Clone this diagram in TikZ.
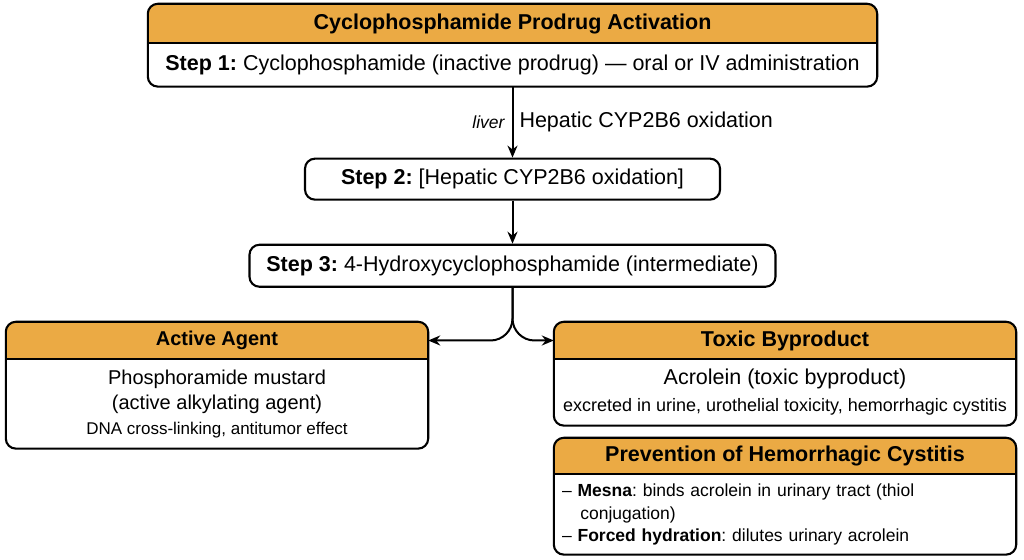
\documentclass[tikz,border=0pt]{standalone}
\usepackage{fontspec}
\setmainfont{Liberation Sans}
\usetikzlibrary{arrows, arrows.meta, positioning, backgrounds}
\definecolor{hdrorange}{RGB}{235,170,68}
\tikzstyle{header} = [rectangle, minimum height=37, text centered, inner sep=0pt, font=\fontsize{21.5}{25}\selectfont\bfseries]
\tikzstyle{panelbody} = [rectangle, text centered, align=center, inner sep=0pt, font=\fontsize{20}{25}\selectfont]
\tikzstyle{stepbox} = [rectangle, rounded corners=10, draw=black, line width=2.1pt, minimum height=41, text centered, inner sep=0pt, font=\fontsize{21.5}{25}\selectfont]
\tikzstyle{panel} = [rounded corners=10, line width=2.1pt]
\tikzstyle{arrow} = [line width=2pt,->,>={Stealth[length=12pt,width=10pt]}]

\begin{document}
\frenchspacing
\begin{tikzpicture}[x=1pt, y=1pt]
	\useasboundingbox (0,0) rectangle (1024,559);
	
	\node (topHead) [header, minimum width=729, minimum height=39] at (512.5,535.5) {Cyclophosphamide Prodrug Activation};
	\node (topBody) [panelbody, minimum width=729, minimum height=43, below=0pt of topHead, font=\fontsize{21.5}{25}\selectfont] {\textbf{Step 1:} Cyclophosphamide (inactive prodrug) — oral or IV administration};
	
	\node (s2) [stepbox, minimum width=415, below=71pt of topBody] {\textbf{Step 2:} [Hepatic CYP2B6 oxidation]};
	\node (s3) [stepbox, minimum width=526, minimum height=42, below=43pt of s2] {\textbf{Step 3:} 4-Hydroxycyclophosphamide (intermediate)};
	
	\node (actHead) [header, minimum width=422, font=\fontsize{20}{24}\selectfont\bfseries] at (217,218.5) {Active Agent};
	\node (actBody) [panelbody, minimum width=422, minimum height=89, below=0pt of actHead] {Phosphoramide mustard\\(active alkylating agent)\\[0pt]{\fontsize{17}{20}\selectfont DNA cross-linking, antitumor effect}};
	\node (toxHead) [header, minimum width=462] at (785,218.5) {Toxic Byproduct};
	\node (toxBody) [panelbody, minimum width=462, minimum height=66, below=0pt of toxHead, font=\fontsize{21.5}{26}\selectfont] {Acrolein (toxic byproduct)\\[1pt]{\fontsize{18}{20}\selectfont excreted in urine, urothelial toxicity, hemorrhagic cystitis}};
	\node (prevHead) [header, minimum width=462, minimum height=36] at (785,103) {Prevention of Hemorrhagic Cystitis};
	\node (prevBody) [panelbody, minimum width=462, minimum height=79, text width=446, align=left, below=1pt of prevHead, font=\fontsize{17.5}{22.5}\selectfont] {-- \textbf{Mesna}: binds acrolein in urinary tract (thiol\\\hspace*{1.05em}conjugation)\\-- \textbf{Forced hydration}: dilutes urinary acrolein};
	
	% orange header bands
	\begin{scope}[on background layer]
	\foreach \pn in {top,act,tox,prev} {
		\begin{scope}
			\clip[rounded corners=10] (\pn Head.north west) rectangle (\pn Body.south east);
			\fill[hdrorange] (\pn Head.north west) rectangle (\pn Head.south east);
		\end{scope}
	}
	\end{scope}
	\foreach \pn in {top,act,tox,prev} {
		\draw[panel] (\pn Head.north west) rectangle (\pn Body.south east);
		\draw[line width=2pt] (\pn Head.south west) -- (\pn Head.south east);
	}
	
	\draw [arrow] (topBody) -- node[left, inner sep=7pt, font=\fontsize{17.5}{20}\selectfont\itshape] {liver} node[right, inner sep=6pt, font=\fontsize{21.5}{25}\selectfont] {Hepatic CYP2B6 oxidation} (s2);
	\draw [arrow] (s2) -- (s3);
	\draw [arrow, rounded corners=22] (s3.south) |- (actHead.east);
	\draw [arrow, rounded corners=22] (s3.south) |- (toxHead.west);
\end{tikzpicture}
\end{document}
